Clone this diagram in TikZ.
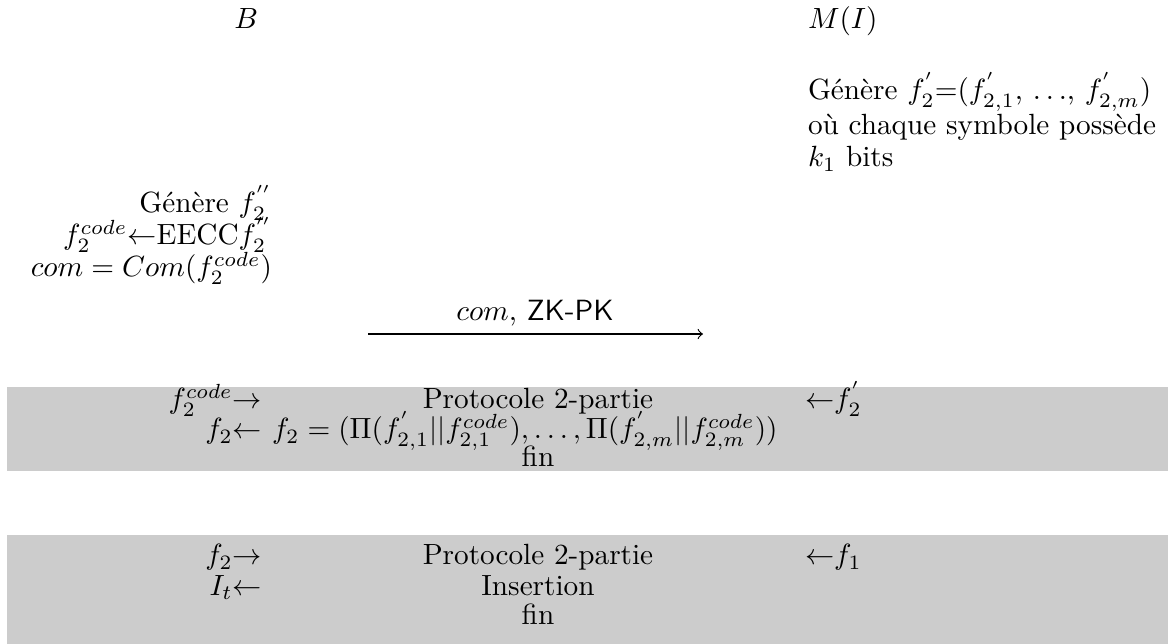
\documentclass[tikz,border=0pt]{standalone}
\usepackage{amsmath}
\definecolor{boxgray}{RGB}{204,204,204}
\begin{document}
\begin{tikzpicture}[x=0.342pt,y=-0.342pt,
  txt/.style={inner sep=0pt, outer sep=0pt},
  le/.style={txt, anchor=base east},
  lw/.style={txt, anchor=base west},
  lc/.style={txt, anchor=base},
  msg/.style={-to, line width=0.4pt}]
\useasboundingbox (0,0) rectangle (1168,644);
% shaded bands
\fill[boxgray] (7,387) rectangle (1168,471);
\fill[boxgray] (7,535) rectangle (1168,644);
% parties
\node[le] (B) at (258,29) {$B$};
\node[lw] (M) at (808,29) {$M(I)$};
% M side
\node[lw] (m1) at (808,100) {Génère $f^{'}_2$=($f^{'}_{2,1}$, $\ldots$, $f^{'}_{2,m}$)};
\node[lw] (m2) at (808,135) {où chaque symbole possède};
\node[lw] (m3) at (808,167) {$k_1$ bits};
% B side
\node[le] (b1) at (272,213) {Génère $f^{''}_2$};
\node[le] (b2) at (272,245) {$f_2^{code}${$\leftarrow$}EECC$f^{''}_2$};
\node[le] (b3) at (272,277) {$com = Com(f_2^{code})$};
% message
\coordinate (a1) at (368,334);
\coordinate (a2) at (703,334);
\draw[msg] (a1) -- (a2);
\node[lc] (lab) at (535,321) {$com$, \textsf{ZK-PK}};
% first 2-party protocol
\node[le] (p1l) at (262,409) {$f_2^{code}{\rightarrow}$};
\node[lc] (p1c) at (538,409) {Protocole 2-partie};
\node[lw] (p1r) at (805,409) {${\leftarrow}f^{'}_2$};
\node[le] (p2l) at (262,439) {$f_2{\leftarrow}$};
\node[lw] (p2c) at (272,439) {$f_2=(\Pi(f^{'}_{2,1}||f^{code}_{2,1}),\ldots,\Pi(f^{'}_{2,m}||f^{code}_{2,m}))$};
\node[lc] (p3c) at (538,467) {fin};
% second 2-party protocol
\node[le] (q1l) at (262,565) {$f_2{\rightarrow}$};
\node[lc] (q1c) at (538,565) {Protocole 2-partie};
\node[lw] (q1r) at (805,565) {${\leftarrow}f_1$};
\node[le] (q2l) at (262,595) {$I_t{\leftarrow}$};
\node[lc] (q2c) at (538,595) {Insertion};
\node[lc] (q3c) at (538,625) {fin};
\end{tikzpicture}
\end{document}
